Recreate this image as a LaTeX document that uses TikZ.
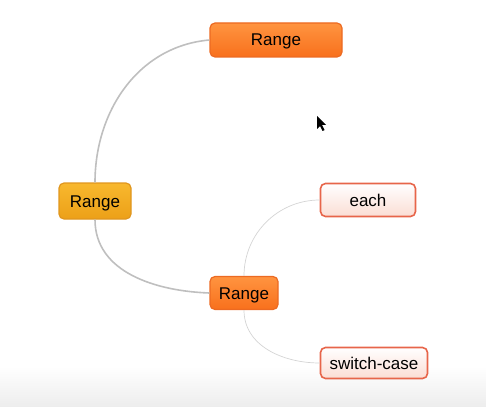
\documentclass[tikz,border=0pt]{standalone}
\usepackage{fontspec}
\setmainfont{Liberation Sans}
\usetikzlibrary{positioning}

\definecolor{rangetop}{HTML}{FF9440}
\definecolor{rangebot}{HTML}{F8701C}
\definecolor{rangeedge}{HTML}{EC6A22}
\definecolor{roottop}{HTML}{F8B82E}
\definecolor{rootbot}{HTML}{ECA018}
\definecolor{rootedge}{HTML}{E0961E}
\definecolor{leaftop}{HTML}{FFFFFF}
\definecolor{leafbot}{HTML}{FBDDD4}
\definecolor{leafedge}{HTML}{E7654A}

\begin{document}
\begin{tikzpicture}[x=1pt,y=-1pt,
	topic/.style={rounded corners=5pt, line width=1.2pt, inner sep=0pt,
		minimum height=34pt, text height=12pt, text depth=0pt,
		font=\fontsize{17}{20}\selectfont},
	central/.style={topic, draw=rangeedge, top color=rangetop, bottom color=rangebot},
	root/.style={topic, draw=rootedge, top color=roottop, bottom color=rootbot},
	leaf/.style={topic, line width=1.6pt, draw=leafedge, top color=leaftop, bottom color=leafbot},
	branch/.style={draw=black!25, line width=1.6pt},
	twig/.style={draw=black!17, line width=0.7pt}]

	\useasboundingbox (0,0) rectangle (486,406);
	\fill[top color=white, bottom color=black!7] (0,366) rectangle (486,406);

	\node[central, minimum width=132pt] (range1) at (276,40) {Range};
	\node[root, minimum width=72pt, minimum height=36pt] (range0) at (95,201) {Range};
	\node[central, minimum width=68pt, minimum height=33pt] (range2) at (244,293) {Range};
	\node[leaf, minimum width=95pt, minimum height=33pt] (each) at (368,200) {each};
	\node[leaf, minimum width=107pt, minimum height=31pt] (switch) at (374,363) {switch-case};

	\draw[branch] (range0.north) to[out=90, in=185] (range1.west);
	\draw[branch] (range0.south) to[out=-90, in=178] (range2.west);
	\draw[twig] (range2.north) to[out=90, in=180] (each.west);
	\draw[twig] (range2.south) to[out=-90, in=180] (switch.west);

	\fill[black] (317,116) -- (317,129) -- (320,126) -- (322.5,131) -- (324.5,130)
		-- (322,125) -- (326,125) -- cycle;
\end{tikzpicture}
\end{document}
